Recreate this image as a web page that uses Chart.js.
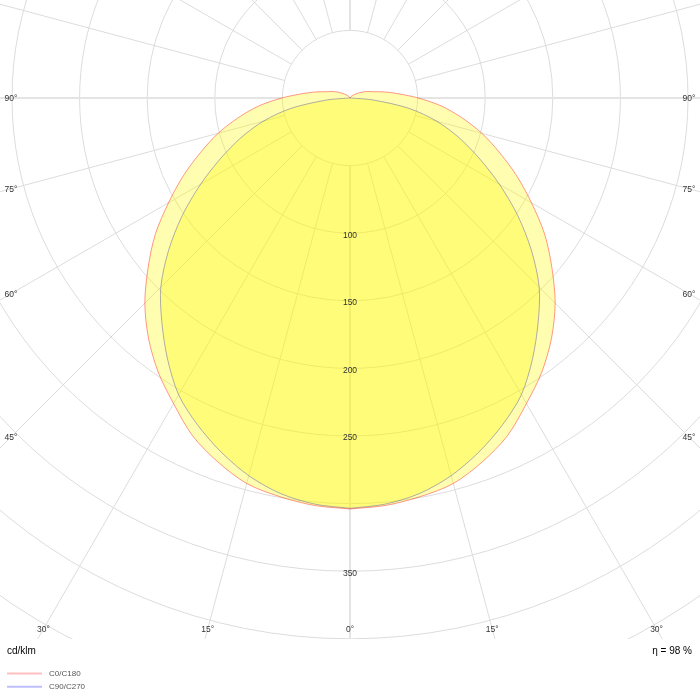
<!DOCTYPE html>
<html>
<head>
<meta charset="utf-8">
<script src="https://cdn.jsdelivr.net/npm/chart.js@4.4.0/dist/chart.umd.min.js"></script>
<style>
    html, body { margin: 0; padding: 0; background: #fff; }
    #wrap { width: 700px; height: 700px; }
</style>
</head>
<body>
<div id="wrap"><canvas id="polar" width="700" height="700"></canvas></div>
<script>
// Ángulos gamma (grados) e intensidades (cd/klm)
const gammaAngles = [0, 5, 10, 15, 20, 25, 30, 35, 40, 45, 50, 55, 60, 65, 70, 75, 80, 85, 90,
                     95, 100, 105, 110, 115, 120, 125, 130, 135, 140, 145, 150, 155, 160, 165, 170, 175, 180];
const intensityC0 = [304, 302.5, 299.4, 295.2, 286.3, 275.6, 261, 247.4, 231.9, 214.6, 194.9, 175.8, 155, 136, 117.6, 101, 84, 67.8, 50.5,
                     35.9, 25.8, 18, 14.2, 10.6, 7.5, 5.2, 3.5, 2.4, 1.6, 1, 0.6, 0.4, 0.2, 0.1, 0, 0, 0];
const intensityC90 = [303.5, 301.5, 297, 289.2, 278.7, 266.8, 253.5, 235.4, 216.5, 197.9, 175.1, 151.4, 127.6, 105.4, 85.8, 66.5, 44.5, 17.5, 1,
                      0, 0, 0, 0, 0, 0, 0, 0, 0, 0, 0, 0, 0, 0, 0, 0, 0, 0];
const seriesNames = ['C0/C180', 'C90/C270'];

// Rejilla y etiquetas
const ringValues = [50, 100, 150, 200, 250, 300, 350, 400, 450];
const ringLabels = [100, 150, 200, 250, 350];
const spokeAngles = [0, 15, 30, 45, 60, 75, 90, 105, 120, 135, 150, 165, 180];
const angleLabels = [0, 15, 30, 45, 60, 75, 90];
const unitText = 'cd/klm';
const effText = 'η = 98 %';

// Pasar de polar a x/y (derecha C0, izquierda C180)
function toPoints(vals) {
    const pts = [];
    for (let i = 0; i < gammaAngles.length; i++) {
        const a = gammaAngles[i] * Math.PI / 180;
        pts.push({ x: vals[i] * Math.sin(a), y: vals[i] * Math.cos(a) });
    }
    for (let i = gammaAngles.length - 1; i >= 0; i--) {
        const a = gammaAngles[i] * Math.PI / 180;
        pts.push({ x: -vals[i] * Math.sin(a), y: vals[i] * Math.cos(a) });
    }
    return pts;
}

const FONT = '"Liberation Sans", Arial, sans-serif';

const polarGrid = {
    id: 'polarGrid',
    beforeDatasetsDraw(chart) {
        const { ctx, chartArea, scales: { x, y } } = chart;
        const cx = x.getPixelForValue(0), cy = y.getPixelForValue(0);
        ctx.save();
        ctx.beginPath();
        ctx.rect(chartArea.left, chartArea.top, chartArea.right - chartArea.left, chartArea.bottom - chartArea.top);
        ctx.clip();
        ctx.strokeStyle = '#dcdcdc';
        ctx.lineWidth = 1;
        ringValues.forEach(r => {
            const rx = x.getPixelForValue(r) - cx;
            const ry = y.getPixelForValue(r) - cy;
            ctx.beginPath();
            ctx.ellipse(cx, cy, rx, ry, 0, 0, 2 * Math.PI);
            ctx.stroke();
        });
        spokeAngles.forEach(g => {
            const a = g * Math.PI / 180;
            const main = (g === 0 || g === 90 || g === 180);
            ctx.strokeStyle = main ? '#e4e4e4' : '#dcdcdc';
            ctx.lineWidth = main ? 2 : 1;
            const sides = (g === 0 || g === 180) ? [1] : [1, -1];
            sides.forEach(side => {
                ctx.beginPath();
                ctx.moveTo(x.getPixelForValue(side * 50 * Math.sin(a)), y.getPixelForValue(50 * Math.cos(a)));
                ctx.lineTo(x.getPixelForValue(side * 1200 * Math.sin(a)), y.getPixelForValue(1200 * Math.cos(a)));
                ctx.stroke();
            });
        });
        ctx.restore();
    },
    afterDatasetsDraw(chart) {
        const { ctx, scales: { x, y } } = chart;
        const cx = x.getPixelForValue(0), cy = y.getPixelForValue(0);
        ctx.save();
        ctx.fillStyle = '#333';
        ctx.textAlign = 'center';
        ctx.textBaseline = 'middle';
        ctx.font = '8.5px ' + FONT;
        ringLabels.forEach(r => {
            ctx.fillText(String(r), cx, y.getPixelForValue(r) + 2);
        });
        // etiquetas de ángulo en el borde
        const leftX = 11, rightX = 689, bottomY = 629;
        angleLabels.forEach(g => {
            const a = g * Math.PI / 180;
            const sides = g === 0 ? [1] : [-1, 1];
            sides.forEach(side => {
                const s = Math.sin(a), c = Math.cos(a);
                let t = Infinity;
                if (s > 1e-6) t = Math.min(t, (side < 0 ? cx - leftX : rightX - cx) / s);
                if (c > 1e-6) t = Math.min(t, (bottomY - cy) / c);
                ctx.fillText(g + '°', cx + side * t * s, cy + t * c + 0.5);
            });
        });
        ctx.restore();
    },
    afterDraw(chart) {
        const { ctx } = chart;
        const ds = chart.data.datasets;
        ctx.save();
        ctx.textBaseline = 'middle';
        ctx.fillStyle = '#000';
        ctx.font = '10px ' + FONT;
        ctx.textAlign = 'left';
        ctx.fillText(unitText, 7, 651);
        ctx.textAlign = 'right';
        ctx.fillText(effText, 692, 651);
        // leyenda
        ctx.textAlign = 'left';
        ctx.font = '8px ' + FONT;
        ds.forEach((d, i) => {
            const ly = 673.5 + i * 13.3;
            ctx.strokeStyle = d.legendColor;
            ctx.lineWidth = 2;
            ctx.beginPath();
            ctx.moveTo(7, ly);
            ctx.lineTo(42, ly);
            ctx.stroke();
            ctx.fillStyle = '#555';
            ctx.fillText(d.label, 49, ly);
        });
        ctx.restore();
    }
};

const ctx = document.getElementById('polar').getContext('2d');
new Chart(ctx, {
    type: 'line',
    data: {
        datasets: [{
            label: seriesNames[0],
            data: toPoints(intensityC0),
            borderColor: 'rgba(255, 0, 0, 0.4)',
            backgroundColor: 'rgba(255, 250, 0, 0.31)',
            legendColor: 'rgba(255, 0, 0, 0.25)',
            borderWidth: 1,
            fill: 'shape',
            pointRadius: 0,
            tension: 0.3
        }, {
            label: seriesNames[1],
            data: toPoints(intensityC90),
            borderColor: 'rgba(0, 0, 255, 0.45)',
            backgroundColor: 'rgba(255, 250, 0, 0.31)',
            legendColor: 'rgba(0, 0, 255, 0.25)',
            borderWidth: 1,
            fill: 'shape',
            pointRadius: 0,
            tension: 0.3
        }]
    },
    options: {
        responsive: false,
        devicePixelRatio: 1,
        animation: false,
        layout: { padding: { left: 0, right: 0, top: 0, bottom: 61 } },
        scales: {
            x: { type: 'linear', display: false, min: -350 / 1.352, max: 350 / 1.352 },
            y: { type: 'linear', display: false, reverse: true, min: -98 / 1.352, max: 541 / 1.352 }
        },
        plugins: {
            legend: { display: false },
            tooltip: { enabled: false }
        }
    },
    plugins: [polarGrid]
});
</script>
</body>
</html>
